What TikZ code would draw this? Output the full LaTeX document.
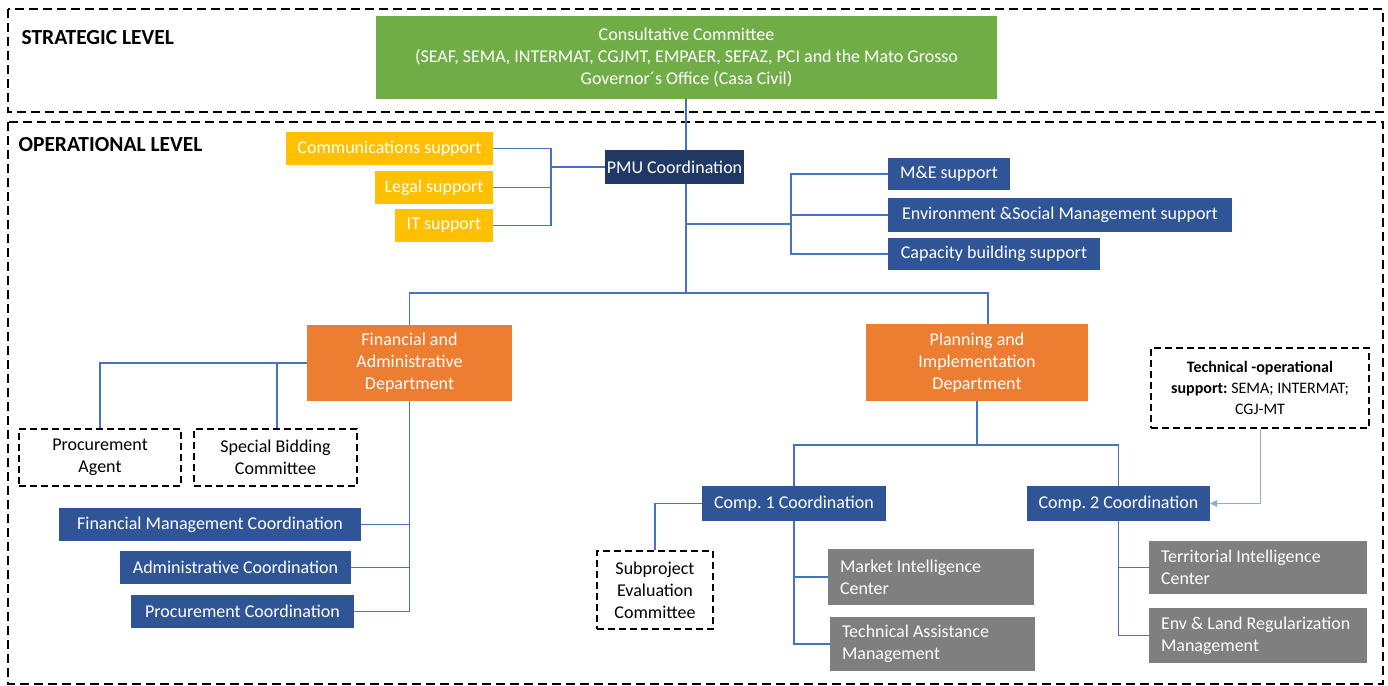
\documentclass[tikz,border=0pt]{standalone}
\usepackage{fontspec}
\setmainfont{Carlito}
\usepackage{xcolor}
\usetikzlibrary{arrows.meta,positioning,calc}
\definecolor{ccgreen}{HTML}{70AD47}
\definecolor{pmunavy}{HTML}{1F3864}
\definecolor{suppyellow}{HTML}{FFC000}
\definecolor{unitblue}{HTML}{2F5597}
\definecolor{deptorange}{HTML}{ED7D31}
\definecolor{centergray}{HTML}{7F7F7F}
\definecolor{linkblue}{HTML}{4472C4}
\definecolor{softblue}{HTML}{8FAADC}
\frenchspacing
\tikzset{
  orgbox/.style={
    draw=none,
    align=center,
    inner sep=0pt,
    text=white,
    font=\fontsize{18}{22}\selectfont
  },
  topbox/.style={orgbox, fill=ccgreen},
  pmubox/.style={orgbox, fill=pmunavy},
  yellowbox/.style={orgbox, fill=suppyellow},
  bluebox/.style={orgbox, fill=unitblue},
  deptbox/.style={orgbox, fill=deptorange},
  graybox/.style={orgbox, fill=centergray, align=flush left, inner xsep=12pt},
  dashbox/.style={orgbox, text=black, draw=black, line width=1.8pt,
    dash pattern=on 7pt off 4pt},
  levelbox/.style={draw=black, line width=1.3pt, dash pattern=on 9pt off 5pt},
  levellabel/.style={anchor=west, font=\fontsize{21.5}{24}\selectfont\bfseries},
  link/.style={draw=linkblue, line width=1.6pt},
  supportlink/.style={draw=softblue, line width=1pt, -{Triangle[length=7pt,width=7pt]}}
}
\begin{document}
\begin{tikzpicture}[x=1pt,y=-1pt]
\useasboundingbox (0,0) rectangle (1388,685);
% levels
\draw[levelbox] (8,9) rectangle (1383,112);
\draw[levelbox] (8,122) rectangle (1383,684);
\node[levellabel] (strat) at (18,38) {STRATEGIC LEVEL};
\node[levellabel] (oper) at (15,145) {OPERATIONAL LEVEL};

% strategic
\node[topbox, minimum width=621pt, minimum height=83pt] (cc) at (686.5,57.5)
  {Consultative Committee\\(SEAF, SEMA, INTERMAT, CGJMT, EMPAER, SEFAZ, PCI and the Mato Grosso\\Governor´s Office (Casa Civil)};

% PMU and supports
\node[pmubox, minimum width=139pt, minimum height=34pt] (pmu) at (674.5,167) {PMU Coordination};
\node[yellowbox, minimum width=207pt, minimum height=33pt] (comm) at (389.5,148.5) {Communications support};
\node[yellowbox, minimum width=118pt, minimum height=33pt] (legal) at (434,187.5) {Legal support};
\node[yellowbox, minimum width=98pt, minimum height=33pt] (it) at (444,225.5) {IT support};
\node[bluebox, minimum width=122pt, minimum height=32pt] (me) at (949,174) {M\&E support};
\node[bluebox, minimum width=344pt, minimum height=34pt] (env) at (1060,215) {Environment \&Social Management support};
\node[bluebox, minimum width=212pt, minimum height=32pt] (cap) at (994,254) {Capacity building support};

% departments
\node[deptbox, minimum width=205pt, minimum height=76pt] (fin) at (409.5,363) {Financial and\\Administrative\\Department};
\node[deptbox, minimum width=222pt, minimum height=77pt] (plan) at (977,362.5) {Planning and\\Implementation\\Department};

% financial side
\node[dashbox, minimum width=162pt, minimum height=57pt] (agent) at (100,457.5) {Procurement\\Agent};
\node[dashbox, minimum width=163pt, minimum height=57pt] (bidding) at (275.5,457.5) {Special Bidding\\Committee};
\node[bluebox, minimum width=302pt, minimum height=33pt] (fmc) at (210,524.5) {Financial Management Coordination};
\node[bluebox, minimum width=231pt, minimum height=33pt] (adc) at (235.5,567.5) {Administrative Coordination};
\node[bluebox, minimum width=223pt, minimum height=33pt] (prc) at (242.5,611.5) {Procurement Coordination};

% planning side
\node[bluebox, minimum width=184pt, minimum height=35pt] (comp1) at (794,503.5) {Comp. 1 Coordination};
\node[bluebox, minimum width=183pt, minimum height=35pt] (comp2) at (1118.5,503.5) {Comp. 2 Coordination};
\node[dashbox, minimum width=218pt, minimum height=80pt, font=\fontsize{16}{21}\selectfont] (tech) at (1260,388)
  {\textbf{Technical -operational}\\\textbf{support:} SEMA; INTERMAT;\\CGJ-MT};
\node[dashbox, minimum width=116pt, minimum height=78pt] (subp) at (655,590) {Subproject\\Evaluation\\Committee};
\node[graybox, text width=182pt, minimum height=56pt] (mic) at (931,577) {Market Intelligence\\Center};
\node[graybox, text width=181pt, minimum height=54pt] (tam) at (932.5,644) {Technical Assistance\\Management};
\node[graybox, text width=194pt, minimum height=53pt] (tic) at (1258,567.5) {Territorial Intelligence\\Center};
\node[graybox, text width=194pt, minimum height=55pt] (elr) at (1258,635.5) {Env \& Land Regularization\\Management};

% junctions
\coordinate (supj) at (551,167);
\coordinate (trunk) at (686,293);
\coordinate (rj) at (791,224);
\coordinate (pj) at (988,293);
\coordinate (fl) at (100,363);
\coordinate (cj) at (977,445);

% connectors
\draw[link] (cc.south -| trunk) -- (pmu.north -| trunk);
\draw[link] (pmu.south -| trunk) -- (trunk);
\draw[link] (comm.east) -| (supj) |- (it.east);
\draw[link] (legal.east) -- (legal.east -| supj);
\draw[link] (supj) -- (pmu.west);
\draw[link] (rj -| trunk) -- (rj);
\draw[link] (me.west) -| (rj) |- (cap.west);
\draw[link] (env.west) -- (env.west -| rj);
\draw[link] (fin.north) |- (pj) -- (pj |- plan.north);
\draw[link] (fin.west) -- (fl) -- (agent.north);
\draw[link] (bidding.north -| 277,0) -- (fin.west -| 277,0);
\draw[link] (fin.south) |- (prc.east);
\draw[link] (fmc.east) -- (fmc.east -| fin.south);
\draw[link] (adc.east) -- (adc.east -| fin.south);
\draw[link] (plan.south) -- (cj);
\draw[link] (comp1.north) |- (cj) -| (comp2.north);
\draw[link] (comp1.west) -| (subp.north);
\draw[link] (comp1.south) |- (tam.west);
\draw[link] (mic.west) -- (mic.west -| comp1.south);
\draw[link] (comp2.south) |- (elr.west);
\draw[link] (tic.west) -- (tic.west -| comp2.south);
\draw[supportlink] (tech.south) |- (comp2.east);
\end{tikzpicture}
\end{document}
